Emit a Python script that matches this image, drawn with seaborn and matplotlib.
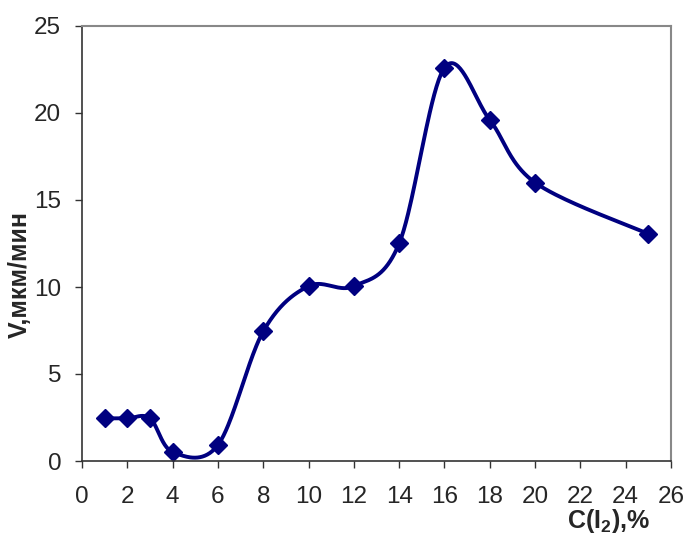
import numpy as np
import pandas as pd
import matplotlib
matplotlib.use("Agg")
import matplotlib.pyplot as plt
import seaborn as sns

# Data
conc = [1, 2, 3, 4, 6, 8, 10, 12, 14, 16, 18, 20, 25]
speed = [2.45, 2.45, 2.45, 0.52, 0.92, 7.45, 10.05, 10.05, 12.5, 22.6, 19.6, 16.0, 13.05]
x_ticks = list(range(0, 27, 2))
y_ticks = [0, 5, 10, 15, 20, 25]
x_label = "C(I$_2$),%"
y_label = "V,мкм/мин"

sns.set_theme(style="white")
plt.rcParams['font.family'] = ['Liberation Sans', 'DejaVu Sans']
plt.rcParams['mathtext.fontset'] = 'custom'
plt.rcParams['mathtext.rm'] = 'Liberation Sans:bold'
plt.rcParams['mathtext.it'] = 'Liberation Sans:bold'
plt.rcParams['mathtext.bf'] = 'Liberation Sans:bold'


def excel_smooth(xs, ys, n=40):
    p = np.column_stack([xs, ys]).astype(float)
    ext = np.vstack([p[0], p, p[-1]])
    out = []
    for i in range(len(p) - 1):
        p0, p1, p2, p3 = ext[i], ext[i + 1], ext[i + 2], ext[i + 3]
        c1 = p1 + (p2 - p0) / 6.0
        c2 = p2 - (p3 - p1) / 6.0
        t = np.linspace(0, 1, n, endpoint=(i == len(p) - 2))[:, None]
        seg = ((1 - t) ** 3) * p1 + 3 * ((1 - t) ** 2) * t * c1 + 3 * (1 - t) * t ** 2 * c2 + t ** 3 * p2
        out.append(seg)
    s = np.vstack(out)
    return s[:, 0], s[:, 1]


sx, sy = excel_smooth(conc, speed)
curve = pd.DataFrame({"x": sx, "y": sy})
pts = pd.DataFrame({"x": conc, "y": speed})

fig = plt.figure(figsize=(6.88, 5.46), dpi=100)
ax = fig.add_axes([82 / 688, 85 / 546, 589 / 688, 435 / 546])

navy = "#000080"
sns.lineplot(data=curve, x="x", y="y", sort=False, estimator=None, ax=ax,
             color=navy, linewidth=2.8)
ax.plot(pts["x"], pts["y"], linestyle="none", marker="D", markersize=9,
        color=navy, markeredgecolor=navy)

ax.set_xlim(0, 26)
ax.set_ylim(0, 25)
ax.set_xticks(x_ticks)
ax.set_yticks(y_ticks)
ax.tick_params(axis="both", which="major", labelsize=17.5, direction="out",
               length=5, width=1, color="#333333", bottom=True, left=True)
ax.tick_params(axis="x", pad=13)
ax.tick_params(axis="y", pad=10)

for side in ["left", "bottom"]:
    ax.spines[side].set_color("#333333")
    ax.spines[side].set_linewidth(1.2)
for side in ["top", "right"]:
    ax.spines[side].set_color("#888888")
    ax.spines[side].set_linewidth(1.5)

ax.set_xlabel("")
ax.set_ylabel("")
fig.text(608 / 688, 1 - 521 / 546, x_label, ha="center", va="center",
         fontsize=18, fontweight="bold")
fig.text(20 / 688, 1 - 274 / 546, y_label, ha="center", va="center",
         fontsize=18, fontweight="bold", rotation=90)

fig.savefig("out.png", dpi=100, facecolor="white")
